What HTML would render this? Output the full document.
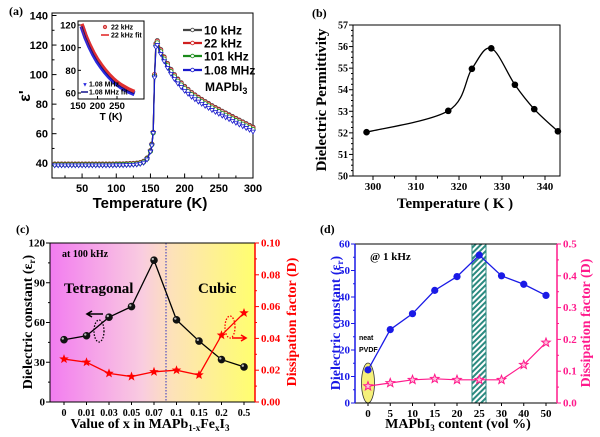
<!DOCTYPE html>
<html><head><meta charset="utf-8"><style>
html,body{margin:0;padding:0;background:#fff;width:600px;height:437px;overflow:hidden}
svg{display:block}
.s{font-family:"Liberation Sans",sans-serif;font-weight:bold}
.r{font-family:"Liberation Serif",serif;font-weight:bold}
</style></head><body>
<svg id="fig" width="600" height="437" viewBox="0 0 600 437" xmlns="http://www.w3.org/2000/svg">
<defs>
<linearGradient id="bgc" x1="0" x2="1" y1="0" y2="0">
<stop offset="0" stop-color="#f27cf0"/><stop offset="0.45" stop-color="#f9cce0"/><stop offset="0.6" stop-color="#fde2b8"/><stop offset="1" stop-color="#ffff6e"/>
</linearGradient>
<pattern id="hatch" width="4" height="4" patternUnits="userSpaceOnUse" patternTransform="rotate(45)">
<rect width="4" height="4" fill="#fff"/><rect width="2" height="4" fill="#2b8a80"/>
</pattern>
</defs>
</svg>
<script>
// ---------- Panel (a) data ----------
const tempA = [10,15,20,25,30,35,40,45,50,55,60,65,70,75,80,85,90,95,100,105,110,115,120,125,130,135,140,145,150,152,154,156,158,160,165,170,175,180,185,190,195,200,205,210,215,220,225,230,235,240,245,250,255,260,265,270,275,280,285,290,295,300];
const eps10k = [39.5,39.5,39.5,39.5,39.5,39.5,39.5,39.5,39.5,39.5,39.5,39.5,39.5,39.5,39.5,39.5,39.5,39.5,39.6,39.6,39.6,39.7,39.8,39.9,40.1,40.5,41.3,43.5,48.5,53,61,100,121,123,117,112,107.5,103.5,100,97,94.5,92,90,88,86.3,84.7,83.2,81.8,80.4,79,77.7,76.5,75.2,74,72.8,71.6,70.4,69.2,68,66.8,65.6,64.4];
const eps22k = [39.3,39.3,39.3,39.3,39.3,39.3,39.3,39.3,39.3,39.3,39.3,39.3,39.3,39.3,39.3,39.3,39.3,39.3,39.4,39.4,39.4,39.5,39.6,39.7,39.9,40.3,41.1,43.3,48.3,52.8,60.8,100,120.5,122.5,116.5,111.5,107,103,99.5,96.5,94,91.5,89.5,87.5,85.8,84.2,82.7,81.3,79.9,78.5,77.2,76,74.7,73.5,72.3,71.1,69.9,68.7,67.5,66.3,65.1,63.9];
const eps101k = [39,39,39,39,39,39,39,39,39,39,39,39,39,39,39,39,39,39,39.1,39.1,39.1,39.2,39.3,39.4,39.6,40,40.8,43,48,52.5,60.5,99,119.5,121.5,115.5,110.5,106,102,98.5,95.5,93,90.5,88.5,86.5,84.8,83.2,81.7,80.3,78.9,77.5,76.2,75,73.7,72.5,71.3,70.1,68.9,67.7,66.5,65.3,64.1,62.9];
const eps108M = [38.5,38.5,38.5,38.5,38.5,38.5,38.5,38.5,38.5,38.5,38.5,38.5,38.5,38.5,38.5,38.5,38.5,38.5,38.6,38.6,38.6,38.7,38.8,38.9,39.1,39.5,40.3,42.5,47.8,52,60.5,98,118.5,120,114,109,104.5,100.5,97,94,91.5,89,87,85,83.3,81.7,80.2,78.8,77.4,76,74.7,73.5,72.2,71,69.8,68.6,67.4,66.2,65,63.8,62.6,61.4];
const insetT = [160,170,180,190,200,210,220,230,240,250,260,270,280,290,295];
const inset22k = [121,111,103,96,90,85,80.5,76.5,73,70,67.5,65.5,63.5,62,61.3];
const inset108M = [119,109,101,94,88,83,78.5,74.5,71,68,65.5,63.5,61.5,60,59.3];
// ---------- Panel (b) data ----------
const tempB = [298.5,317.5,323,327.5,333,337.5,343];
const permB = [52.03,53.02,54.97,55.92,54.23,53.1,52.07];
// ---------- Panel (c) data ----------
const catsC = ["0","0.01","0.03","0.05","0.07","0.1","0.15","0.2","0.5"];
const epsC = [47,50,64,72,107,62,46,32,26.5];
const dissC = [0.027,0.025,0.018,0.016,0.019,0.020,0.017,0.042,0.056];
// ---------- Panel (d) data ----------
const catsD = ["0","5","10","15","20","25","30","40","50"];
const epsD = [12.5,27.7,33.7,42.5,47.7,55.8,48,44.8,40.6];
const dissD = [0.053,0.063,0.073,0.076,0.073,0.073,0.073,0.12,0.19];

const NS = "http://www.w3.org/2000/svg";
const svg = document.getElementById('fig');
function mk(parent, tag, attrs, name, inter) {
  const el = document.createElementNS(NS, tag);
  for (const k in attrs) el.setAttribute(k, attrs[k]);
  
  
  parent.appendChild(el);
  return el;
}
function txt(parent, x, y, s, cls, size, name, extra) {
  const a = Object.assign({x: x, y: y, class: cls, 'font-size': size, 'text-anchor': 'middle'}, extra || {});
  const t = mk(parent, 'text', a, name);
  t.textContent = s;
  return t;
}
function lin(d0, d1, r0, r1) { return v => r0 + (v - d0) / (d1 - d0) * (r1 - r0); }
function pathFrom(xs, ys) { return xs.map((x, i) => (i ? 'L' : 'M') + x.toFixed(2) + ',' + ys[i].toFixed(2)).join(''); }
function smoothPath(xs, ys) {
  let d = 'M' + xs[0] + ',' + ys[0];
  for (let i = 0; i < xs.length - 1; i++) {
    const x0 = xs[Math.max(i - 1, 0)], y0 = ys[Math.max(i - 1, 0)];
    const x1 = xs[i], y1 = ys[i], x2 = xs[i + 1], y2 = ys[i + 1];
    const x3 = xs[Math.min(i + 2, xs.length - 1)], y3 = ys[Math.min(i + 2, xs.length - 1)];
    d += 'C' + (x1 + (x2 - x0) / 6) + ',' + (y1 + (y2 - y0) / 6) + ' ' + (x2 - (x3 - x1) / 6) + ',' + (y2 - (y3 - y1) / 6) + ' ' + x2 + ',' + y2;
  }
  return d;
}
function star(cx, cy, r) {
  let p = [];
  for (let i = 0; i < 10; i++) {
    const a = -Math.PI / 2 + i * Math.PI / 5, rr = i % 2 ? r * 0.42 : r;
    p.push((cx + rr * Math.cos(a)).toFixed(2) + ',' + (cy + rr * Math.sin(a)).toFixed(2));
  }
  return p.join(' ');
}

// ================= Panel (a) =================
(function () {
  const g = mk(svg, 'g', {}, 'panel-a');
  const L = 52, R = 253, T = 13, B = 178;
  const x = lin(6, 300, L, R), y = lin(30, 141.7, B, T);
  txt(g, 9, 15, '(a)', 'r', 12, 'panel-a-label', {'text-anchor': 'start'});
  mk(g, 'rect', {x: L, y: T, width: R - L, height: B - T, fill: 'none', stroke: '#000', 'stroke-width': 1}, 'panel-a-frame');
  for (let v = 25; v <= 300; v += 25) {
    const len = v % 50 ? 2.5 : 4.5;
    mk(g, 'line', {x1: x(v), x2: x(v), y1: B, y2: B - len, stroke: '#000'}, 'x-tick-a');
    if (v % 50 === 0) txt(g, x(v), B + 14, String(v), 's', 11, 'x-tick-label-a');
  }
  for (let v = 40; v <= 140; v += 10) {
    const len = v % 20 ? 2.5 : 4.5;
    mk(g, 'line', {x1: L, x2: L + len, y1: y(v), y2: y(v), stroke: '#000'}, 'y-tick-a');
    if (v % 20 === 0) txt(g, L - 4, y(v) + 4, String(v), 's', 11, 'y-tick-label-a', {'text-anchor': 'end'});
  }
  txt(g, 150, 208, 'Temperature (K)', 's', 15, 'x-axis-title-a');
  txt(g, 0, 0, "ε'", 's', 16, 'y-axis-title-a', {transform: 'translate(30,96) rotate(-90)'});
  const series = [[eps10k, '#444'], [eps22k, '#d02020'], [eps101k, '#1a8a1a'], [eps108M, '#1a1acc']];
  series.forEach(([vals, c], si) => {
    const xs = tempA.map(x), ys = vals.map(y);
    mk(g, 'path', {d: pathFrom(xs, ys), fill: 'none', stroke: c, 'stroke-width': 1.3}, 'series-line-a');
    xs.forEach((px, i) => {
      if (si === 3) mk(g, 'path', {d: 'M' + (px - 2.3) + ',' + (ys[i] - 1.5) + 'L' + (px + 2.3) + ',' + (ys[i] - 1.5) + 'L' + px + ',' + (ys[i] + 2.3) + 'Z', fill: '#fff', stroke: c, 'stroke-width': 0.8}, 'marker-a');
      else mk(g, 'circle', {cx: px, cy: ys[i], r: 2.1, fill: '#fff', stroke: c, 'stroke-width': 0.8}, 'marker-a');
    });
  });
  const lg = [['10 kHz', '#444', 30], ['22 kHz', '#d02020', 43], ['101 kHz', '#1a8a1a', 56], ['1.08 MHz', '#1a1acc', 70]];
  lg.forEach(([s, c, ly]) => {
    mk(g, 'line', {x1: 183, x2: 202, y1: ly, y2: ly, stroke: c, 'stroke-width': 2.2}, 'legend-line-a');
    mk(g, 'circle', {cx: 192.5, cy: ly, r: 1.8, fill: '#fff', stroke: c, 'stroke-width': 0.8}, 'legend-marker-a');
    txt(g, 204, ly + 4.5, s, 's', 12, 'legend-entry-a', {'text-anchor': 'start'});
  });
  const mt = txt(g, 205, 91, 'MAPbI', 's', 12, 'compound-label-a', {'text-anchor': 'start'});
  const sub = document.createElementNS(NS, 'tspan'); sub.setAttribute('font-size', 9); sub.setAttribute('dy', 3); sub.textContent = '3'; mt.appendChild(sub);
  // inset
  const iL = 78, iR = 144, iT = 21, iB = 99;
  const ix = lin(150, 250, iL, 117), iy = lin(60, 120, 93, 25);
  mk(g, 'rect', {x: iL, y: iT, width: iR - iL, height: iB - iT, fill: '#fff', stroke: '#000', 'stroke-width': 1}, 'inset-frame');
  [150, 200, 250].forEach(v => { mk(g, 'line', {x1: ix(v), x2: ix(v), y1: iB, y2: iB - 3, stroke: '#000'}, 'inset-x-tick'); txt(g, ix(v), iB + 10, String(v), 's', 9.5, 'inset-x-tick-label'); });
  [60, 80, 100, 120].forEach(v => { mk(g, 'line', {x1: iL, x2: iL + 3, y1: iy(v), y2: iy(v), stroke: '#000'}, 'inset-y-tick'); txt(g, iL - 2, iy(v) + 3.5, String(v), 's', 9.5, 'inset-y-tick-label', {'text-anchor': 'end'}); });
  txt(g, 111, 120, 'T (K)', 's', 10, 'inset-x-title');
  mk(g, 'path', {d: pathFrom(insetT.map(ix), inset108M.map(iy)), fill: 'none', stroke: '#2a2ae0', 'stroke-width': 5}, 'inset-1mhz-data');
  mk(g, 'path', {d: pathFrom(insetT.map(ix), inset22k.map(iy)), fill: 'none', stroke: '#e03030', 'stroke-width': 3.5}, 'inset-22khz-data');
  mk(g, 'path', {d: pathFrom(insetT.map(ix), inset108M.map(iy)), fill: 'none', stroke: '#10108a', 'stroke-width': 1}, 'inset-1mhz-fit');
  mk(g, 'circle', {cx: 105, cy: 27, r: 1.6, fill: '#e88', stroke: '#c33'}, 'inset-legend-marker');
  txt(g, 111, 29.5, '22 kHz', 's', 7, 'inset-legend-22k', {'text-anchor': 'start'});
  mk(g, 'line', {x1: 101, x2: 109, y1: 35, y2: 35, stroke: '#e02020', 'stroke-width': 1.5}, 'inset-legend-line');
  txt(g, 111, 37.5, '22 kHz fit', 's', 7, 'inset-legend-22k-fit', {'text-anchor': 'start'});
  txt(g, 82, 86.5, '▼', 's', 6, 'inset-legend-marker-blue', {'text-anchor': 'start', fill: '#2a2ae0'});
  txt(g, 89, 86.5, '1.08 MHz', 's', 7, 'inset-legend-1mhz', {'text-anchor': 'start'});
  mk(g, 'line', {x1: 81, x2: 88, y1: 92, y2: 92, stroke: '#10108a', 'stroke-width': 1.5}, 'inset-legend-line-blue');
  txt(g, 89, 94.5, '1.08 MHz fit', 's', 7, 'inset-legend-1mhz-fit', {'text-anchor': 'start'});
})();

// ================= Panel (b) =================
(function () {
  const g = mk(svg, 'g', {}, 'panel-b');
  const L = 353, R = 560, T = 25, B = 176;
  const x = lin(300, 340, 373, 545), y = lin(50, 57, B, T);
  txt(g, 312, 17, '(b)', 'r', 12, 'panel-b-label', {'text-anchor': 'start'});
  mk(g, 'rect', {x: L, y: T, width: R - L, height: B - T, fill: 'none', stroke: '#000', 'stroke-width': 1}, 'panel-b-frame');
  for (let v = 295; v <= 345; v += 5) {
    if (x(v) < L || x(v) > R) continue;
    const len = v % 10 ? 2.5 : 4;
    mk(g, 'line', {x1: x(v), x2: x(v), y1: B, y2: B + len, stroke: '#000'}, 'x-tick-b');
    if (v % 10 === 0) txt(g, x(v), B + 14, String(v), 'r', 11, 'x-tick-label-b');
  }
  for (let v = 50; v <= 57; v += 0.25) {
    const major = Math.abs(v - Math.round(v)) < 1e-6;
    mk(g, 'line', {x1: L, x2: L - (major ? 4 : 2), y1: y(v), y2: y(v), stroke: '#000'}, 'y-tick-b');
    if (major) txt(g, L - 5, y(v) + 3.5, String(v), 'r', 10, 'y-tick-label-b', {'text-anchor': 'end'});
  }
  txt(g, 455, 208, 'Temperature ( K )', 'r', 15, 'x-axis-title-b');
  txt(g, 0, 0, 'Dielectric Permittivity', 'r', 15, 'y-axis-title-b', {transform: 'translate(326,100) rotate(-90)'});
  const xs = tempB.map(x), ys = permB.map(y);
  mk(g, 'path', {d: smoothPath(xs, ys), fill: 'none', stroke: '#000', 'stroke-width': 1.3}, 'curve-b');
  xs.forEach((px, i) => mk(g, 'circle', {cx: px, cy: ys[i], r: 3.3, fill: '#000'}, 'point-b'));
})();

// ================= Panel (c) =================
(function () {
  const g = mk(svg, 'g', {}, 'panel-c');
  const L = 50, R = 255, T = 243, B = 402;
  const x = i => 64 + i * 22.5, y = lin(0, 120, B, T), y2 = lin(0, 0.1, B, T);
  txt(g, 16, 233, '(c)', 'r', 12, 'panel-c-label', {'text-anchor': 'start'});
  mk(g, 'rect', {x: L, y: T, width: R - L, height: B - T, fill: 'url(#bgc)'}, 'phase-background');
  mk(g, 'line', {x1: 166, x2: 166, y1: T, y2: B, stroke: '#3030c0', 'stroke-dasharray': '1.5,1.5', 'stroke-width': 1}, 'phase-boundary');
  mk(g, 'line', {x1: L, x2: R, y1: B, y2: B, stroke: '#000'}, 'x-axis-c');
  mk(g, 'line', {x1: L, x2: R, y1: T, y2: T, stroke: '#000'}, 'top-axis-c');
  mk(g, 'line', {x1: L, x2: L, y1: T, y2: B, stroke: '#000'}, 'y-axis-c');
  mk(g, 'line', {x1: R, x2: R, y1: T, y2: B, stroke: '#f00', 'stroke-width': 1.5}, 'y2-axis-c');
  catsC.forEach((c, i) => { mk(g, 'line', {x1: x(i), x2: x(i), y1: B, y2: B + 3, stroke: '#000'}, 'x-tick-c'); txt(g, x(i), B + 14, c, 'r', 10, 'x-tick-label-c'); });
  for (let v = 0; v <= 120; v += 15) {
    const major = v % 30 === 0;
    mk(g, 'line', {x1: L, x2: L - (major ? 4 : 2), y1: y(v), y2: y(v), stroke: '#000'}, 'y-tick-c');
    if (major) txt(g, L - 5, y(v) + 3.5, String(v), 'r', 11, 'y-tick-label-c', {'text-anchor': 'end'});
  }
  for (let k = 0; k <= 10; k++) {
    const v = k / 100, major = k % 2 === 0;
    mk(g, 'line', {x1: R, x2: R + (major ? 4 : 2), y1: y2(v), y2: y2(v), stroke: '#f00'}, 'y2-tick-c');
    if (major) txt(g, R + 6, y2(v) + 3.5, v.toFixed(2), 'r', 11, 'y2-tick-label-c', {'text-anchor': 'start', fill: '#f00'});
  }
  txt(g, 150, 428, 'Value of x in MAPb', 'r', 14, 'x-axis-title-c').innerHTML = 'Value of x in MAPb<tspan font-size="9" dy="3">1-x</tspan><tspan dy="-3">Fe</tspan><tspan font-size="9" dy="3">x</tspan><tspan dy="-3">I</tspan><tspan font-size="9" dy="3">3</tspan>';
  txt(g, 0, 0, '', 'r', 14, 'y-axis-title-c', {transform: 'translate(32,322) rotate(-90)'}).innerHTML = 'Dielectric constant (ε<tspan font-size="9" dy="3">r</tspan><tspan dy="-3">)</tspan>';
  txt(g, 0, 0, 'Dissipation factor (D)', 'r', 14, 'y2-axis-title-c', {transform: 'translate(296,322) rotate(-90)', fill: '#f00'});
  txt(g, 62, 257, 'at 100 kHz', 'r', 10, 'frequency-note-c', {'text-anchor': 'start'});
  txt(g, 64, 293, 'Tetragonal', 'r', 15, 'tetragonal-label', {'text-anchor': 'start'});
  txt(g, 198, 293, 'Cubic', 'r', 15, 'cubic-label', {'text-anchor': 'start'});
  mk(g, 'ellipse', {cx: 99, cy: 331, rx: 5, ry: 11, fill: 'none', stroke: '#000', 'stroke-dasharray': '1.5,1.5', 'stroke-width': 1.3}, 'left-axis-indicator');
  mk(g, 'path', {d: 'M103,314 L88,314 M92,311 L87,314 L92,317', fill: 'none', stroke: '#000', 'stroke-width': 1.6}, 'left-arrow');
  mk(g, 'ellipse', {cx: 230, cy: 327, rx: 5, ry: 11, fill: 'none', stroke: '#f00', 'stroke-dasharray': '1.5,1.5', 'stroke-width': 1.3}, 'right-axis-indicator');
  mk(g, 'path', {d: 'M232,338 L245,338 M241,335 L246,338 L241,341', fill: 'none', stroke: '#f00', 'stroke-width': 1.6}, 'right-arrow');
  const xs = catsC.map((c, i) => x(i));
  mk(g, 'path', {d: pathFrom(xs, epsC.map(y)), fill: 'none', stroke: '#000', 'stroke-width': 1.3}, 'eps-line-c');
  mk(g, 'path', {d: pathFrom(xs, dissC.map(y2)), fill: 'none', stroke: '#f00', 'stroke-width': 1.3}, 'diss-line-c');
  xs.forEach((px, i) => {
    mk(g, 'circle', {cx: px, cy: y(epsC[i]), r: 3.8, fill: '#111'}, 'eps-point-c');
    mk(g, 'circle', {cx: px - 1.2, cy: y(epsC[i]) - 1.2, r: 1.2, fill: '#bbb'}, 'eps-point-highlight');
    mk(g, 'polygon', {points: star(px, y2(dissC[i]), 5), fill: '#f00'}, 'diss-point-c');
  });
})();

// ================= Panel (d) =================
(function () {
  const g = mk(svg, 'g', {}, 'panel-d');
  const L = 355, R = 557, T = 244, B = 403;
  const x = i => 368 + i * 22.25, y = lin(0, 60, B, T), y2 = lin(0, 0.5, B, T);
  const blue = '#1a1ae6', pink = '#ff1a8c';
  txt(g, 320, 233, '(d)', 'r', 12, 'panel-d-label', {'text-anchor': 'start'});
  mk(g, 'ellipse', {cx: x(0), cy: 383, rx: 6.5, ry: 20, fill: '#f5f07a', stroke: '#333', 'stroke-width': 0.8}, 'neat-pvdf-highlight');
  mk(g, 'rect', {x: 472, y: T, width: 14, height: B - T, fill: 'url(#hatch)', stroke: '#2b8a80', 'stroke-width': 1}, 'optimum-band');
  mk(g, 'line', {x1: L, x2: R, y1: B, y2: B, stroke: '#000'}, 'x-axis-d');
  mk(g, 'line', {x1: L, x2: R, y1: T, y2: T, stroke: '#000'}, 'top-axis-d');
  mk(g, 'line', {x1: L, x2: L, y1: T, y2: B, stroke: blue, 'stroke-width': 1.5}, 'y-axis-d');
  mk(g, 'line', {x1: R, x2: R, y1: T, y2: B, stroke: pink, 'stroke-width': 1.5}, 'y2-axis-d');
  catsD.forEach((c, i) => { mk(g, 'line', {x1: x(i), x2: x(i), y1: B, y2: B + 3, stroke: '#000'}, 'x-tick-d'); txt(g, x(i), B + 14, c, 'r', 11, 'x-tick-label-d'); });
  for (let v = 0; v <= 60; v += 5) {
    const major = v % 10 === 0;
    mk(g, 'line', {x1: L, x2: L - (major ? 4 : 2), y1: y(v), y2: y(v), stroke: blue}, 'y-tick-d');
    if (major) txt(g, L - 5, y(v) + 3.5, String(v), 'r', 11, 'y-tick-label-d', {'text-anchor': 'end', fill: blue});
  }
  for (let k = 0; k <= 10; k++) {
    const v = k / 20, major = k % 2 === 0;
    mk(g, 'line', {x1: R, x2: R + (major ? 4 : 2), y1: y2(v), y2: y2(v), stroke: pink}, 'y2-tick-d');
    if (major) txt(g, R + 6, y2(v) + 3.5, v.toFixed(1), 'r', 11, 'y2-tick-label-d', {'text-anchor': 'start', fill: pink});
  }
  txt(g, 458, 428, '', 'r', 14, 'x-axis-title-d').innerHTML = 'MAPbI<tspan font-size="9" dy="3">3</tspan><tspan dy="-3"> content (vol %)</tspan>';
  txt(g, 0, 0, '', 'r', 14, 'y-axis-title-d', {transform: 'translate(340,323) rotate(-90)', fill: blue}).innerHTML = 'Dielectric constant (ε<tspan font-size="9" dy="3">r</tspan><tspan dy="-3">)</tspan>';
  txt(g, 0, 0, 'Dissipation factor (D)', 'r', 14, 'y2-axis-title-d', {transform: 'translate(590,323) rotate(-90)', fill: pink});
  txt(g, 370, 260, '@ 1 kHz', 'r', 11, 'frequency-note-d', {'text-anchor': 'start'});
  txt(g, 359, 340, 'neat', 's', 7, 'neat-label', {'text-anchor': 'start'});
  txt(g, 359, 352, 'PVDF', 's', 7, 'pvdf-label', {'text-anchor': 'start'});
  const xs = catsD.map((c, i) => x(i));
  mk(g, 'path', {d: pathFrom(xs, epsD.map(y)), fill: 'none', stroke: blue, 'stroke-width': 1.3}, 'eps-line-d');
  mk(g, 'path', {d: pathFrom(xs, dissD.map(y2)), fill: 'none', stroke: pink, 'stroke-width': 1.2}, 'diss-line-d');
  xs.forEach((px, i) => {
    mk(g, 'circle', {cx: px, cy: y(epsD[i]), r: 3.6, fill: blue}, 'eps-point-d');
    mk(g, 'polygon', {points: star(px, y2(dissD[i]), 4.5), fill: '#ffc0dc', stroke: pink, 'stroke-width': 1}, 'diss-point-d');
  });
})();
</script>
</body></html>
